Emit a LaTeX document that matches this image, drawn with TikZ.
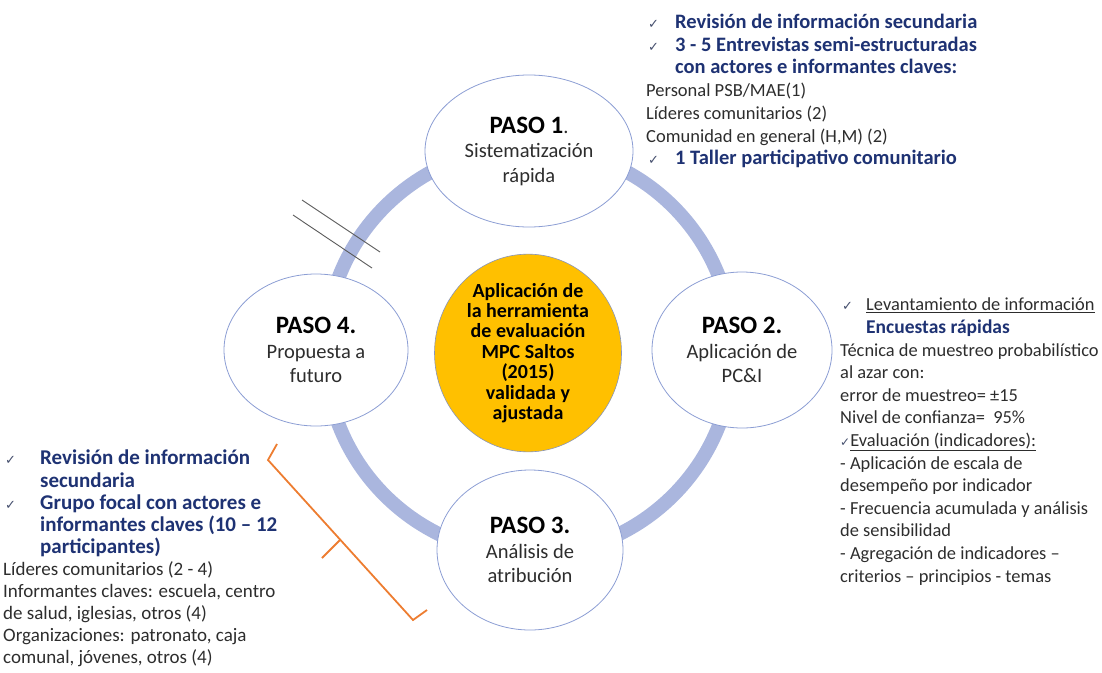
\documentclass[tikz,border=0pt]{standalone}
\usepackage{fontspec}
\setmainfont{Carlito}
\newfontfamily\symfont{DejaVu Sans}
\usetikzlibrary{shapes.geometric}
\definecolor{ringc}{RGB}{170,182,222}
\definecolor{ellc}{RGB}{140,158,212}
\definecolor{navy}{RGB}{30,50,115}
\definecolor{txtc}{RGB}{45,45,45}
\definecolor{chkc}{RGB}{70,80,110}
\definecolor{gold}{RGB}{255,192,0}
\definecolor{orng}{RGB}{237,125,49}
\newcommand\bt[2]{{\bfseries\fontsize{#1}{22.7}\selectfont\color{navy}#2}}
\newcommand\chkmark[1]{\makebox[#1pt][l]{\hspace{2pt}{\symfont\fontsize{13}{13}\selectfont\color{chkc}✓}}}
\newcommand\indt[1]{\hspace*{#1pt}}
\newcommand\pas[1]{{\bfseries\fontsize{25}{24.5}\selectfont\color{black}#1}}
\begin{document}
\begin{tikzpicture}[x=1pt,y=-1pt,
  ring/.style={draw=ringc,line width=14pt},
  ell/.style={ellipse,draw=ellc,line width=0.8pt,fill=white,inner sep=0pt,align=center,text=txtc,
    font=\fontsize{20.5}{24.5}\selectfont},
  hub/.style={ellipse,draw=ellc!70!gray,line width=0.6pt,fill=gold,inner sep=0pt,align=center,
    font=\bfseries\fontsize{20}{20.4}\selectfont,text=black},
  blk/.style={anchor=north west,inner sep=0pt,align=left,text=txtc},
  brk/.style={draw=orng,line width=1.8pt},
  hatch/.style={draw=black!65,line width=0.9pt}]
\useasboundingbox (0,0) rectangle (1102,672);
\coordinate (c) at (529,351);
\draw[ring] (c) circle[radius=204pt];
\node[ell,minimum width=208pt,minimum height=152pt] (p1) at (529,151)
  {\pas{PASO 1}.\\Sistematización\\rápida};
\node[ell,minimum width=180pt,minimum height=156pt] (p2) at (742,350)
  {\pas{PASO 2.}\\Aplicación de\\PC\&I};
\node[ell,minimum width=186pt,minimum height=160pt] (p3) at (530,550)
  {\pas{PASO 3.}\\Análisis de\\atribución};
\node[ell,minimum width=184pt,minimum height=152pt] (p4) at (316,350)
  {\pas{PASO 4.}\\Propuesta a\\futuro};
\node[hub,minimum width=187pt,minimum height=182pt] (hub) at (528,353)
  {Aplicación de\\la herramienta\\de evaluación\\MPC Saltos\\(2015)\\validada y\\ajustada};
% hatch lines
\coordinate (h1a) at (302,200); \coordinate (h1b) at (380,252);
\coordinate (h2a) at (293,215); \coordinate (h2b) at (372,268);
\draw[hatch] (h1a) -- (h1b);
\draw[hatch] (h2a) -- (h2b);
% orange bracket
\coordinate (b1) at (277,444); \coordinate (b2) at (268,460);
\coordinate (b3) at (413,620); \coordinate (b4) at (427,610);
\coordinate (bm) at (340,540); \coordinate (bt) at (322,558);
\draw[brk,line join=miter] (b1) -- (b2) -- (b3) -- (b4);
\draw[brk] (bm) -- (bt);
% text blocks
\node[blk,font=\fontsize{18.5}{22.7}\selectfont] (top) at (646,14) {%
\chkmark{29}\bt{20.5}{Revisión de información secundaria}\\
\chkmark{29}\bt{20.5}{3 - 5 Entrevistas semi-estructuradas}\\
\indt{29}\bt{20.5}{con actores e informantes claves:}\\
Personal PSB/MAE(1)\\
Líderes comunitarios (2)\\
Comunidad en general (H,M) (2)\\
\chkmark{29}\bt{20.5}{1 Taller participativo comunitario}};
\node[blk,font=\fontsize{18.4}{22.6}\selectfont] (rt) at (840,298) {%
\chkmark{26}\underline{Levantamiento de información}\\
\indt{26}\bt{19.5}{Encuestas rápidas}\\
Técnica de muestreo probabilístico\\
al azar con:\\
error de muestreo= ±15\\
Nivel de confianza=\ \ 95\%\\
{\symfont\fontsize{12}{12}\selectfont\color{chkc}✓}\underline{Evaluación (indicadores):}\\
- Aplicación de escala de\\
desempeño por indicador\\
- Frecuencia acumulada y análisis\\
de sensibilidad\\
- Agregación de indicadores –\\
criterios – principios - temas};
\node[blk,font=\fontsize{19}{22.1}\selectfont] (lt) at (3,450) {%
\chkmark{37}\bt{21}{Revisión de información}\\
\indt{37}\bt{21}{secundaria}\\
\chkmark{37}\bt{21}{Grupo focal con actores e}\\
\indt{37}\bt{21}{informantes claves (10 – 12}\\
\indt{37}\bt{21}{participantes)}\\
Líderes comunitarios (2 - 4)\\
Informantes claves: escuela, centro\\
de salud, iglesias, otros (4)\\
Organizaciones: patronato, caja\\
comunal, jóvenes, otros (4)};
\end{tikzpicture}
\end{document}
